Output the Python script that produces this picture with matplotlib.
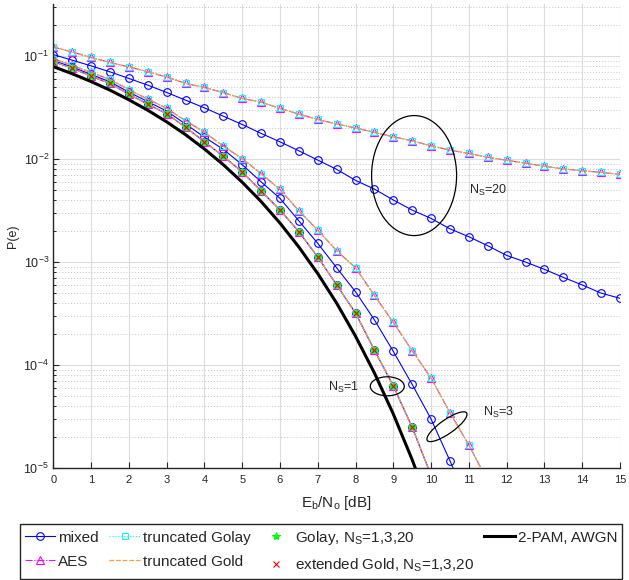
import matplotlib
matplotlib.use("Agg")
import matplotlib.pyplot as plt
import numpy as np
from matplotlib.patches import Ellipse
from matplotlib.transforms import ScaledTranslation
from matplotlib.ticker import LogLocator, NullFormatter, LogFormatterMathtext

plt.rcParams['font.family'] = ['Liberation Sans', 'DejaVu Sans']
plt.rcParams['mathtext.fontset'] = 'custom'
plt.rcParams['mathtext.rm'] = 'Liberation Sans'
plt.rcParams['mathtext.it'] = 'Liberation Sans:italic'
plt.rcParams['mathtext.bf'] = 'Liberation Sans:bold'
plt.rcParams['mathtext.sf'] = 'Liberation Sans'

# Eb/No grid (dB)
snr = np.arange(0, 15.5, 0.5)

# N_S = 1 : every scheme lands on the same curve
pe_ns1 = [8.8e-2, 7.6e-2, 6.35e-2, 5.4e-2, 4.25e-2, 3.4e-2, 2.75e-2, 2.03e-2,
          1.47e-2, 1.06e-2, 7.5e-3, 4.9e-3, 3.2e-3, 1.97e-3, 1.12e-3, 6.0e-4,
          3.2e-4, 1.4e-4, 6.3e-5, 2.5e-5, 8.5e-6]

# N_S = 3
pe_mixed_ns3 = [9.0e-2, 7.8e-2, 6.6e-2, 5.6e-2, 4.45e-2, 3.6e-2, 2.92e-2, 2.18e-2,
                1.63e-2, 1.24e-2, 8.8e-3, 6.0e-3, 4.15e-3, 2.51e-3, 1.52e-3, 8.8e-4,
                5.15e-4, 2.75e-4, 1.36e-4, 6.5e-5, 3.0e-5, 1.18e-5, 4.5e-6]
pe_trunc_ns3 = [9.4e-2, 8.1e-2, 6.9e-2, 5.9e-2, 4.7e-2, 3.8e-2, 3.1e-2, 2.35e-2,
                1.82e-2, 1.33e-2, 1.01e-2, 7.2e-3, 5.07e-3, 3.14e-3, 2.04e-3, 1.29e-3,
                8.8e-4, 4.75e-4, 2.6e-4, 1.38e-4, 7.5e-5, 3.46e-5, 1.68e-5, 7.5e-6]

# N_S = 20
pe_mixed_ns20 = [1.03e-1, 9.08e-2, 8.0e-2, 7.0e-2, 6.04e-2, 5.2e-2, 4.42e-2, 3.72e-2,
                 3.13e-2, 2.6e-2, 2.16e-2, 1.77e-2, 1.466e-2, 1.2e-2, 9.75e-3, 7.93e-3,
                 6.2e-3, 5.1e-3, 4.0e-3, 3.19e-3, 2.65e-3, 2.1e-3, 1.76e-3, 1.44e-3,
                 1.16e-3, 1.0e-3, 8.5e-4, 7.1e-4, 6.0e-4, 5.0e-4, 4.45e-4]
pe_trunc_ns20 = [1.22e-1, 1.09e-1, 9.66e-2, 8.63e-2, 7.82e-2, 7.0e-2, 6.25e-2, 5.4e-2,
                 4.94e-2, 4.4e-2, 3.86e-2, 3.56e-2, 3.09e-2, 2.72e-2, 2.42e-2, 2.18e-2,
                 2.0e-2, 1.81e-2, 1.64e-2, 1.5e-2, 1.34e-2, 1.22e-2, 1.13e-2, 1.04e-2,
                 9.7e-3, 9.1e-3, 8.5e-3, 8.0e-3, 7.7e-3, 7.4e-3, 7.1e-3]

# 2-PAM over AWGN
pe_2pam = [7.86e-2, 6.71e-2, 5.63e-2, 4.65e-2, 3.75e-2, 2.97e-2, 2.29e-2, 1.72e-2,
           1.25e-2, 8.8e-3, 5.95e-3, 3.87e-3, 2.39e-3, 1.40e-3, 7.73e-4, 4.0e-4,
           1.91e-4, 8.4e-5, 3.36e-5, 1.21e-5, 3.87e-6]

ns_labels = ['N$_{\\mathrm{S}}$=1', 'N$_{\\mathrm{S}}$=3', 'N$_{\\mathrm{S}}$=20']

BLUE = (0, 0, 1)
MAGENTA = (1, 0, 1)
CYAN = (0, 1, 1)
ORANGE = '#ff9933'
GREEN = (0, 1, 0)
RED = (1, 0, 0)
TXT = '#262626'

fig = plt.figure(figsize=(6.29, 5.8), dpi=100)
ax = fig.add_axes([0.0847, 0.1926, 0.901, 0.8])

curves_mixed = [pe_ns1, pe_mixed_ns3, pe_mixed_ns20]
curves_trunc = [pe_ns1, pe_trunc_ns3, pe_trunc_ns20]

h = {}
for pe in curves_mixed:
    l, = ax.plot(snr[:len(pe)], pe, '-', color=BLUE, marker='o', mfc='none',
                 ms=5.5, lw=0.8, mew=0.8)
    h.setdefault('mixed', l)
for pe in curves_trunc:
    l, = ax.plot(snr[:len(pe)], pe, '-.', color=MAGENTA, marker='^', mfc='none',
                 ms=5.5, lw=0.8, mew=0.8)
    h.setdefault('AES', l)
for pe in curves_trunc:
    l, = ax.plot(snr[:len(pe)], pe, ':', color=CYAN, marker='s', mfc='none',
                 ms=5, lw=0.8, mew=0.8)
    h.setdefault('tgolay', l)
for pe in curves_trunc:
    l, = ax.plot(snr[:len(pe)], pe, '--', color=ORANGE, lw=0.9)
    h.setdefault('tgold', l)
h['golay'], = ax.plot(snr[:len(pe_ns1)], pe_ns1, ls='none', marker='*',
                      color=GREEN, ms=6, mew=0.8)
h['xgold'], = ax.plot(snr[:len(pe_ns1)], pe_ns1, ls='none', marker='x',
                      color=RED, ms=4.5, mew=0.8)
h['pam'], = ax.plot(snr[:len(pe_2pam)], pe_2pam, '-', color='k', lw=2.2)

ax.set_yscale('log')
ax.set_xlim(0, 15)
ax.set_ylim(1e-5, 10 ** -0.5)
ax.set_xticks(np.arange(0, 16, 1))
ax.set_yticks([1e-5, 1e-4, 1e-3, 1e-2, 1e-1])
ax.yaxis.set_major_formatter(LogFormatterMathtext())
ax.yaxis.set_minor_locator(LogLocator(base=10, subs=np.arange(2, 10)))
ax.yaxis.set_minor_formatter(NullFormatter())

ax.grid(True, which='major', color='#dcdcdc', lw=0.8, ls='-')
ax.grid(True, which='minor', axis='y', color='#c4c4c4', lw=0.7, ls=(0, (1, 2)))
ax.set_axisbelow(True)

for s in ['top', 'right']:
    ax.spines[s].set_visible(False)
for s in ['left', 'bottom']:
    ax.spines[s].set_color(TXT)
    ax.spines[s].set_linewidth(1.0)

ax.tick_params(which='both', direction='in', colors=TXT, top=False, right=False)
ax.tick_params(which='major', length=4, width=0.8)
ax.tick_params(which='minor', length=2.5, width=0.7)
ax.tick_params(axis='x', labelsize=8, pad=5)
ax.tick_params(axis='y', labelsize=9, pad=3)

ax.set_xlabel('E$_{\\mathrm{b}}$/N$_{\\mathrm{o}}$ [dB]', fontsize=11, color=TXT,
              labelpad=6)
ax.set_ylabel('P(e)', fontsize=9, color=TXT, labelpad=3)


def ring(xc, yc, w, hgt, angle=0):
    tr = fig.dpi_scale_trans + ScaledTranslation(xc, yc, ax.transData)
    ax.add_patch(Ellipse((0, 0), w, hgt, angle=angle, transform=tr, fill=False,
                         ec='k', lw=0.9, clip_on=False, zorder=5))


ring(9.55, 6.9e-3, 0.85, 1.2)
ring(8.84, 6.24e-5, 0.34, 0.19)
ring(10.42, 2.53e-5, 0.48, 0.14, angle=35)

ax.text(11.0, 4.9e-3, ns_labels[2], fontsize=9, color=TXT, va='center', ha='left')
ax.text(7.28, 6.1e-5, ns_labels[0], fontsize=9, color=TXT, va='center', ha='left')
ax.text(11.37, 3.5e-5, ns_labels[1], fontsize=9, color=TXT, va='center', ha='left')

handles = [h['mixed'], h['AES'], h['tgolay'], h['tgold'], h['golay'], h['xgold'], h['pam']]
labels = ['mixed', 'AES', 'truncated Golay', 'truncated Gold',
          'Golay, N$_{\\mathrm{S}}$=1,3,20', 'extended Gold, N$_{\\mathrm{S}}$=1,3,20',
          '2-PAM, AWGN']
leg = fig.legend(handles, labels, ncol=4, loc='lower left',
                 bbox_to_anchor=(20 / 629, 1 - 578.5 / 580, 602 / 629, 55 / 580),
                 mode='expand', fontsize=11, frameon=True, fancybox=False,
                 edgecolor=TXT, framealpha=1, borderpad=0.3, handlelength=2.0,
                 handletextpad=0.2, columnspacing=0.5, labelspacing=0.65,
                 borderaxespad=0)
leg.get_frame().set_linewidth(1.0)
for t in leg.get_texts():
    t.set_color(TXT)

fig.savefig('out.png', dpi=100)
